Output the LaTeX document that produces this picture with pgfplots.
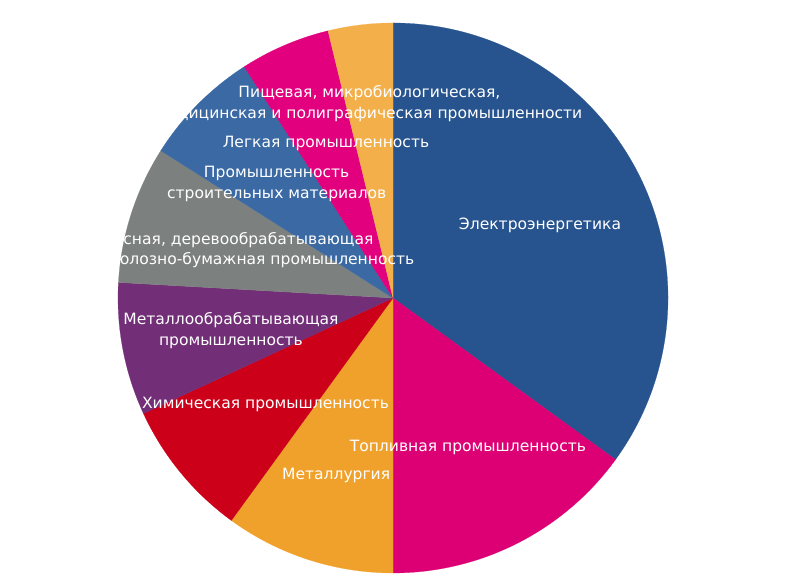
\documentclass[border=0pt]{standalone}
\usepackage{fontspec}
\setmainfont{DejaVu Sans}
\usepackage{pgfplots}
\usepackage{pgfplotstable}
\pgfplotsset{compat=1.18}

% slice colours, in the order of the table below
\definecolor{pc0}{HTML}{27548E}
\definecolor{pc1}{HTML}{DC0074}
\definecolor{pc2}{HTML}{EFA12B}
\definecolor{pc3}{HTML}{CC0019}
\definecolor{pc4}{HTML}{722E77}
\definecolor{pc5}{HTML}{7C807F}
\definecolor{pc6}{HTML}{3A69A3}
\definecolor{pc7}{HTML}{E2007E}
\definecolor{pc8}{HTML}{F2AF4A}

% share in percent, label distance from the centre
\pgfplotstableread{
share lr
35.0  165
15.0  165
10.0  184
8.1   165
7.8   165
8.1   163
6.9   164
5.3   170
3.8   198
}\piedata

\expandafter\def\csname plabel0\endcsname{Электроэнергетика}
\expandafter\def\csname plabel1\endcsname{Топливная промышленность}
\expandafter\def\csname plabel2\endcsname{Металлургия}
\expandafter\def\csname plabel3\endcsname{Химическая промышленность}
\expandafter\def\csname plabel4\endcsname{Металлообрабатывающая\\промышленность}
\expandafter\def\csname plabel5\endcsname{Лесная, деревообрабатывающая\\и целлюлозно-бумажная промышленность}
\expandafter\def\csname plabel6\endcsname{Промышленность\\строительных материалов}
\expandafter\def\csname plabel7\endcsname{Легкая промышленность}
\expandafter\def\csname plabel8\endcsname{Пищевая, микробиологическая,\\медицинская и полиграфическая промышленности}

% start, end and middle angle of every slice (clockwise from the top)
\xdef\cum{0}
\pgfplotstableforeachcolumnelement{share}\of\piedata\as\s{%
  \pgfmathsetmacro\a{90-3.6*\cum}%
  \pgfmathsetmacro\newcum{\cum+\s}%
  \pgfmathsetmacro\b{90-3.6*\newcum}%
  \pgfmathsetmacro\m{(\a+\b)/2}%
  \expandafter\xdef\csname pa\pgfplotstablerow\endcsname{\a}%
  \expandafter\xdef\csname pb\pgfplotstablerow\endcsname{\b}%
  \expandafter\xdef\csname pm\pgfplotstablerow\endcsname{\m}%
  \xdef\cum{\newcum}%
}
\pgfplotstableforeachcolumnelement{lr}\of\piedata\as\s{%
  \expandafter\xdef\csname pr\pgfplotstablerow\endcsname{\s}%
}

\begin{document}
\begin{tikzpicture}
\begin{axis}[
  x=1bp, y=1bp,
  xmin=-393, xmax=408,
  ymin=-288, ymax=298,
  hide axis,
  clip=false,
]
\path (rel axis cs:0,0) rectangle (rel axis cs:1,1);
\pgfplotsinvokeforeach{0,...,8}{
  \fill[pc#1, draw=pc#1, line width=0.2pt]
    (axis cs:0,0)
    -- (axis cs:{275*cos(\csname pa#1\endcsname)},{275*sin(\csname pa#1\endcsname)})
    arc[start angle=\csname pa#1\endcsname, end angle=\csname pb#1\endcsname, radius=275bp]
    -- cycle;
}
\pgfplotsinvokeforeach{0,...,8}{
  \node[text=white, align=center, inner sep=0pt, yshift=-2bp,
        font=\fontsize{15.6}{21}\selectfont]
    at (axis cs:{\csname pr#1\endcsname*cos(\csname pm#1\endcsname)},{\csname pr#1\endcsname*sin(\csname pm#1\endcsname)})
    {\csname plabel#1\endcsname};
}
\end{axis}
\end{tikzpicture}
\end{document}
